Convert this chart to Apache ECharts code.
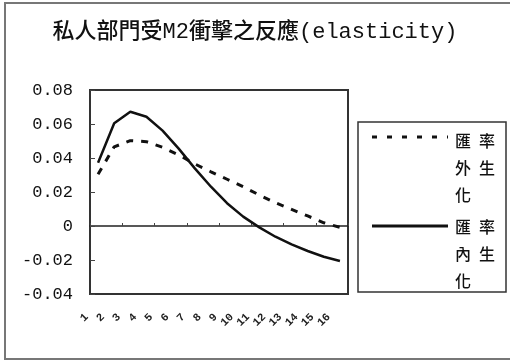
<!DOCTYPE html>
<html>
<head>
<meta charset="utf-8">
<script src="https://cdn.jsdelivr.net/npm/echarts@6/dist/echarts.min.js"></script>
<style>
  html, body { margin: 0; padding: 0; background: #fff; }
  #chart { width: 510px; height: 361px; }
</style>
</head>
<body>
<div id="chart"></div>
<script>
// Impulse response of the private sector to an M2 shock, periods 1..16
const periods = ['1','2','3','4','5','6','7','8','9','10','11','12','13','14','15','16'];
const exogenousRate = [0.0304, 0.0466, 0.0502, 0.0496, 0.0463, 0.0418, 0.0365, 0.0319,
                       0.0275, 0.0231, 0.0182, 0.0137, 0.0098, 0.0059, 0.0019, -0.0008];
const endogenousRate = [0.0372, 0.0604, 0.0672, 0.0643, 0.0561, 0.0455, 0.0339, 0.0231,
                        0.0134, 0.0055, -0.0008, -0.0063, -0.0108, -0.0147, -0.0181, -0.0206];
const seriesNames = ['匯率外生化', '匯率內生化'];
const titleText = '私人部門受M2衝擊之反應(elasticity)';
const yMin = -0.04, yMax = 0.08, yStep = 0.02;

const latinFont = "'Liberation Mono', 'Noto Sans CJK TC', monospace";
const cjkFont = "'Noto Sans CJK TC', sans-serif";

// Legend text: two characters per row, three rows
function legendText(name) {
  const chars = Array.from(name);
  const rows = [];
  for (let i = 0; i < chars.length; i += 2) {
    rows.push(chars.slice(i, i + 2).map(c => '{c|' + c + '}').join(''));
  }
  return rows.join('\n');
}
const legendRich = { c: { fontFamily: cjkFont, fontSize: 16, fontWeight: 500, lineHeight: 27, padding: [0, 8, 0, 0], fill: '#111' } };

const chart = echarts.init(document.getElementById('chart'), null, { renderer: 'canvas' });
chart.setOption({
  backgroundColor: '#fff',
  animation: false,
  title: {
    text: titleText,
    left: 'center',
    top: 16,
    textStyle: { fontFamily: latinFont, fontSize: 22, fontWeight: 500, color: '#111' }
  },
  grid: {
    left: 90, right: 162, top: 90, bottom: 67,
    show: true, borderColor: '#333', borderWidth: 2, backgroundColor: 'transparent'
  },
  xAxis: [
    {
      type: 'category',
      data: periods,
      position: 'bottom',
      axisLine: { show: false, onZero: false },
      axisTick: { show: false },
      axisLabel: {
        rotate: 45, margin: 10, padding: [0, 16, 0, 0], interval: 0,
        fontFamily: latinFont, fontSize: 11, fontWeight: 'bold', color: '#222'
      }
    },
    {
      type: 'category',
      data: periods,
      position: 'top',
      axisLine: { show: true, onZero: true, lineStyle: { color: '#222', width: 1.5 } },
      axisTick: { show: true, length: 3, lineStyle: { color: '#444', width: 1 } },
      axisLabel: { show: false }
    }
  ],
  yAxis: {
    type: 'value',
    min: yMin, max: yMax, interval: yStep,
    axisLine: { show: false },
    axisTick: { show: true, inside: true, length: 5, lineStyle: { color: '#444' } },
    splitLine: { show: false },
    axisLabel: {
      margin: 17,
      fontFamily: latinFont, fontSize: 17, color: '#111',
      formatter: v => Math.abs(v) < 1e-9 ? '0' : v.toFixed(2)
    }
  },
  series: [
    {
      name: seriesNames[0], type: 'line', data: exogenousRate,
      symbol: 'none', smooth: false,
      lineStyle: { color: '#111', width: 3, type: [7, 8] }
    },
    {
      name: seriesNames[1], type: 'line', data: endogenousRate,
      symbol: 'none', smooth: false,
      lineStyle: { color: '#111', width: 2.5, type: 'solid' }
    }
  ],
  graphic: [
    // page frame
    { type: 'rect', shape: { x: 5, y: 3, width: 520, height: 356 },
      style: { fill: 'none', stroke: '#777', lineWidth: 2 }, silent: true },
    // legend box
    { type: 'rect', shape: { x: 358, y: 122, width: 148, height: 170 },
      style: { fill: '#fff', stroke: '#333', lineWidth: 1.5 }, silent: true },
    { type: 'line', shape: { x1: 372, y1: 137, x2: 448, y2: 137 },
      style: { stroke: '#111', lineWidth: 3, lineDash: [5, 10] }, silent: true },
    { type: 'text', x: 455, y: 127, style: { text: legendText(seriesNames[0]), rich: legendRich } },
    { type: 'line', shape: { x1: 372, y1: 226, x2: 448, y2: 226 },
      style: { stroke: '#111', lineWidth: 3 }, silent: true },
    { type: 'text', x: 455, y: 213, style: { text: legendText(seriesNames[1]), rich: legendRich } }
  ]
});
</script>
</body>
</html>
